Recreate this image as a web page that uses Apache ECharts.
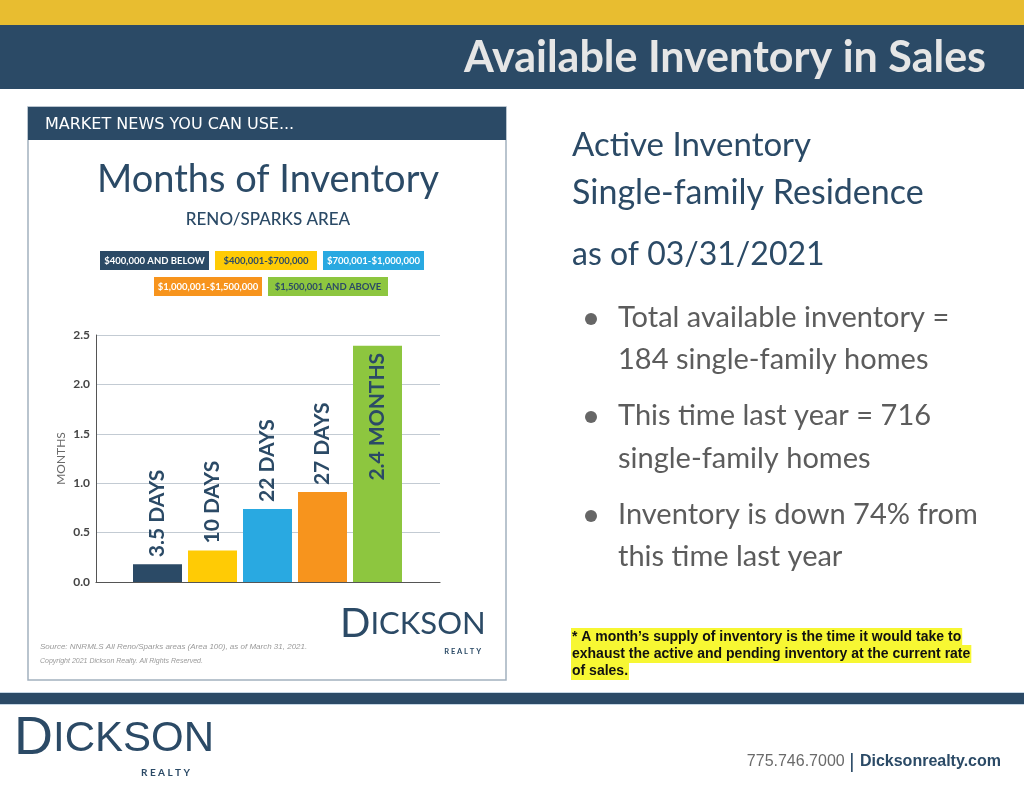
<!DOCTYPE html>
<html>
<head>
<meta charset="utf-8">
<script src="https://cdn.jsdelivr.net/npm/echarts@6/dist/echarts.min.js"></script>
<style>
  html, body { margin: 0; padding: 0; background: #fff; }
  #main { width: 1024px; height: 791px; }
</style>
</head>
<body>
<div id="main"></div>
<script>
// price ranges (legend) and months of inventory per range
var categories = ['$400,000 AND BELOW', '$400,001-$700,000', '$700,001-$1,000,000', '$1,000,001-$1,500,000', '$1,500,001 AND ABOVE'];
var months = [0.18, 0.32, 0.74, 0.91, 2.39];
var barLabels = ['3.5 DAYS', '10 DAYS', '22 DAYS', '27 DAYS', '2.4 MONTHS'];
var yTicks = ['0.0', '0.5', '1.0', '1.5', '2.0', '2.5'];
var barColors = ['#2b4a66', '#ffcb05', '#29a9e1', '#f7941d', '#8dc63f'];

var NAVY = '#2b4a66';
var myChart = echarts.init(document.getElementById('main'));

// legend chips: two rows, boxes laid out by hand
var chipPos = [[100, 251, 109], [215, 251, 102], [323, 251, 101], [154, 277, 108], [268, 277, 120]];
var chipText = ['#fff', NAVY, '#fff', '#fff', NAVY];
var chips = [];
categories.forEach(function (c, i) {
    var p = chipPos[i];
    chips.push({ type: 'rect', shape: { x: p[0], y: p[1], width: p[2], height: 19 }, style: { fill: barColors[i] } });
    chips.push({ type: 'text', x: p[0] + p[2] / 2, y: p[1] + 10,
        style: { text: c, fill: chipText[i], font: 'bold 9.5px Lato, sans-serif', align: 'center', verticalAlign: 'middle' } });
});

var bodyFont = '29px Lato, sans-serif';
var footFont = 'bold 14px "Liberation Sans", Arial, sans-serif';

var option = {
    animation: false,
    backgroundColor: '#fff',
    graphic: [
        // header bars
        { type: 'rect', shape: { x: 0, y: 0, width: 1024, height: 25 }, style: { fill: '#e8bd30' } },
        { type: 'rect', shape: { x: 0, y: 25, width: 1024, height: 64 }, style: { fill: NAVY } },
        { type: 'text', x: 986, y: 58, style: { text: 'Available Inventory in Sales', fill: '#e6e6e6',
            font: 'bold 43px Lato, sans-serif', align: 'right', verticalAlign: 'middle' } },

        // card
        { type: 'rect', shape: { x: 28, y: 107, width: 478, height: 573 }, style: { fill: '#fff', stroke: '#a3b1bf', lineWidth: 1.5 } },
        { type: 'rect', shape: { x: 28, y: 107, width: 478, height: 33 }, style: { fill: NAVY } },
        { type: 'text', x: 45, y: 125, style: { text: 'MARKET NEWS YOU CAN USE...', fill: '#fff',
            font: '16px "DejaVu Sans", sans-serif', verticalAlign: 'middle' } },
        { type: 'text', x: 268, y: 180, style: { text: 'Months of Inventory', fill: NAVY,
            font: '38px Lato, sans-serif', align: 'center', verticalAlign: 'middle' } },
        { type: 'text', x: 268, y: 220, style: { text: 'RENO/SPARKS AREA', fill: NAVY,
            font: '500 17px Lato, sans-serif', align: 'center', verticalAlign: 'middle' } }
    ].concat(chips).concat([
        { type: 'text', x: 340, y: 644, style: { text: '{a|D}{b|ICKSON}', verticalAlign: 'bottom',
            rich: { a: { font: '40px Lato, sans-serif', fill: NAVY }, b: { font: '31px Lato, sans-serif', fill: NAVY } } } },
        { type: 'text', x: 481, y: 652, style: { text: 'R E A L T Y', fill: NAVY, font: 'bold 7.5px Lato, sans-serif',
            align: 'right', verticalAlign: 'middle' } },
        { type: 'text', x: 40, y: 647, style: { text: 'Source: NNRMLS All Reno/Sparks areas (Area 100), as of March 31, 2021.',
            fill: '#9a9a9a', font: 'italic 8px "Liberation Sans", sans-serif', verticalAlign: 'middle' } },
        { type: 'text', x: 40, y: 661, style: { text: 'Copyright 2021 Dickson Realty. All Rights Reserved.',
            fill: '#9a9a9a', font: 'italic 7px "Liberation Sans", sans-serif', verticalAlign: 'middle' } },

        // right column
        { type: 'text', x: 572, y: 145, style: { text: 'Active Inventory', fill: NAVY, font: '33px Lato, sans-serif', verticalAlign: 'middle' } },
        { type: 'text', x: 572, y: 193, style: { text: 'Single-family Residence', fill: NAVY, font: '34px Lato, sans-serif', verticalAlign: 'middle' } },
        { type: 'text', x: 572, y: 255, style: { text: 'as of 03/31/2021', fill: NAVY, font: '32px Lato, sans-serif', verticalAlign: 'middle' } },
        { type: 'circle', shape: { cx: 591, cy: 319, r: 6 }, style: { fill: '#666' } },
        { type: 'circle', shape: { cx: 591, cy: 417, r: 6 }, style: { fill: '#666' } },
        { type: 'circle', shape: { cx: 591, cy: 516, r: 6 }, style: { fill: '#666' } },
        { type: 'text', x: 618, y: 318, style: { text: 'Total available inventory =', fill: '#5c5c5c', font: bodyFont, verticalAlign: 'middle' } },
        { type: 'text', x: 618, y: 360, style: { text: '184 single-family homes', fill: '#5c5c5c', font: bodyFont, verticalAlign: 'middle' } },
        { type: 'text', x: 618, y: 416, style: { text: 'This time last year = 716', fill: '#5c5c5c', font: bodyFont, verticalAlign: 'middle' } },
        { type: 'text', x: 618, y: 459, style: { text: 'single-family homes', fill: '#5c5c5c', font: bodyFont, verticalAlign: 'middle' } },
        { type: 'text', x: 618, y: 515, style: { text: 'Inventory is down 74% from', fill: '#5c5c5c', font: bodyFont, verticalAlign: 'middle' } },
        { type: 'text', x: 618, y: 557, style: { text: 'this time last year', fill: '#5c5c5c', font: bodyFont, verticalAlign: 'middle' } },

        // footnote
        { type: 'text', x: 571, y: 637, style: { text: '* A month\u2019s supply of inventory is the time it would take to', fill: '#111',
            font: footFont, verticalAlign: 'middle', backgroundColor: '#f7f733', padding: [2, 1] } },
        { type: 'text', x: 571, y: 654, style: { text: 'exhaust the active and pending inventory at the current rate', fill: '#111',
            font: footFont, verticalAlign: 'middle', backgroundColor: '#f7f733', padding: [2, 1] } },
        { type: 'text', x: 571, y: 671, style: { text: 'of sales.', fill: '#111',
            font: footFont, verticalAlign: 'middle', backgroundColor: '#f7f733', padding: [2, 1] } },

        // footer
        { type: 'rect', shape: { x: 0, y: 692, width: 1024, height: 13 }, style: { fill: '#c5d6e4' } },
        { type: 'rect', shape: { x: 0, y: 693, width: 1024, height: 11 }, style: { fill: NAVY } },
        { type: 'text', x: 14, y: 766, style: { text: '{a|D}{b|ICKSON}', verticalAlign: 'bottom',
            rich: { a: { font: '54px "Liberation Sans", sans-serif', fill: NAVY },
                    b: { font: '42px "Liberation Sans", sans-serif', fill: NAVY } } } },
        { type: 'text', x: 190, y: 773, style: { text: 'R E A L T Y', fill: NAVY, font: 'bold 10px Lato, sans-serif',
            align: 'right', verticalAlign: 'middle' } },
        { type: 'text', x: 1001, y: 762, style: { text: '{g|775.746.7000 }{s|| }{b|Dicksonrealty.com}', align: 'right', verticalAlign: 'middle',
            rich: {
                g: { font: '16px "Liberation Sans", sans-serif', fill: '#6a6a6a' },
                s: { font: '20px "Liberation Sans", sans-serif', fill: NAVY },
                b: { font: 'bold 16px "Liberation Sans", sans-serif', fill: NAVY }
            } } }
    ]),
    grid: [
        { left: 96, top: 335, width: 344, height: 247, containLabel: false },
        { left: 130, top: 335, width: 275, height: 247, containLabel: false }
    ],
    xAxis: [
        { gridIndex: 0, type: 'category', data: [''], axisLine: { lineStyle: { color: '#555', width: 1.2 } },
          axisTick: { show: false }, axisLabel: { show: false } },
        { gridIndex: 1, type: 'category', data: categories, axisLine: { show: false },
          axisTick: { show: false }, axisLabel: { show: false } }
    ],
    yAxis: [
        { gridIndex: 0, type: 'value', min: 0, max: 2.5, interval: 0.5,
          name: 'MONTHS', nameLocation: 'middle', nameGap: 29,
          nameTextStyle: { color: '#6a6a6a', fontSize: 12, fontFamily: 'Lato, sans-serif' },
          axisLine: { show: true, lineStyle: { color: '#555', width: 1 } },
          axisTick: { show: false },
          axisLabel: { margin: 6, color: '#444', fontSize: 12, fontWeight: 'bold', fontFamily: 'Lato, sans-serif',
              formatter: function (v) { return yTicks[Math.round(v / 0.5)]; } },
          splitLine: { lineStyle: { color: '#c3cbd3', width: 1 } } },
        { gridIndex: 1, type: 'value', min: 0, max: 2.5, interval: 0.5, show: false, splitLine: { show: false } }
    ],
    series: [{
        type: 'bar',
        xAxisIndex: 1,
        yAxisIndex: 1,
        barWidth: 49,
        data: months.map(function (v, i) {
            var big = v > 2;
            return {
                value: v,
                itemStyle: { color: barColors[i] },
                label: {
                    show: true,
                    formatter: barLabels[i],
                    position: big ? 'insideTop' : 'top',
                    rotate: 90,
                    align: big ? 'right' : 'left',
                    verticalAlign: 'middle',
                    distance: 7,
                    color: NAVY,
                    fontSize: 21,
                    fontWeight: 'bold',
                    fontFamily: 'Lato, sans-serif'
                }
            };
        })
    }]
};

myChart.setOption(option);
</script>
</body>
</html>
